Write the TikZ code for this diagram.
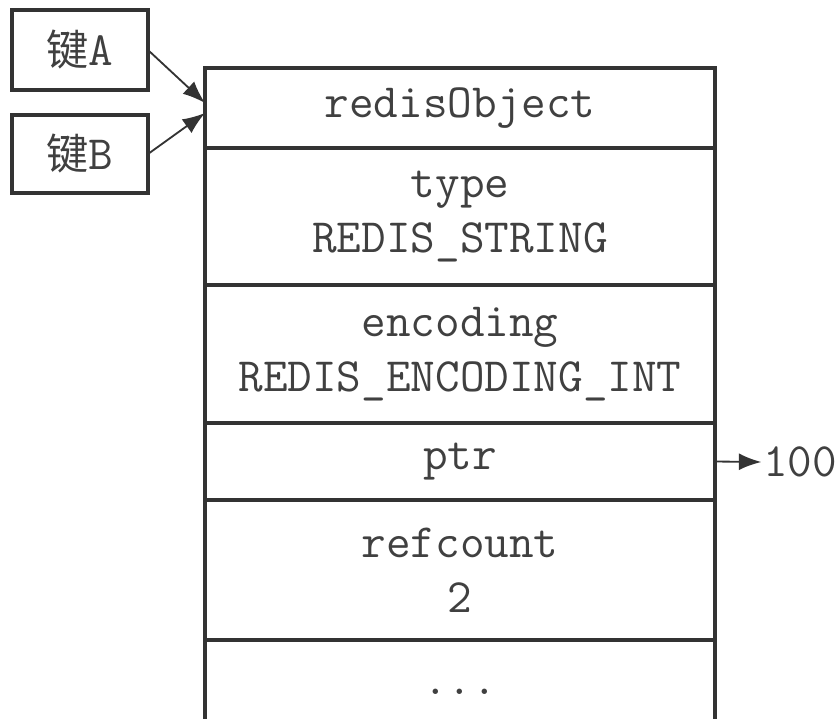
\documentclass[tikz,border=0pt]{standalone}
\usepackage{fontspec}
\newfontfamily\cjkfont{Noto Sans CJK SC}
\usetikzlibrary{arrows.meta,positioning}
\tikzset{
  obj-field/.style={draw=black!80, line width=3.4pt, minimum width=12.75cm, inner sep=0pt, outer sep=0pt,
    align=center, text=black!75, font=\ttfamily\fontsize{34}{39}\selectfont},
  obj-key/.style={draw=black!80, line width=3.4pt, minimum width=3.4cm, inner sep=0pt, outer sep=0pt,
    text=black!75, font=\ttfamily\fontsize{34}{39}\selectfont},
  obj-link/.style={-{Latex[length=16pt,width=12pt]}, draw=black!80, line width=1.3pt}
}

\begin{document}
\begin{tikzpicture}[node distance=0pt]
  \useasboundingbox (0,0) rectangle (20.975,-17.975);
  % keys
  \node[obj-key, minimum height=2.0cm] (keya) at (2.0,-1.25) {{\cjkfont\fontsize{30}{39}\selectfont 键}A};
  \node[obj-key, minimum height=1.95cm] (keyb) at (2.0,-3.85) {{\cjkfont\fontsize{30}{39}\selectfont 键}B};
  % the object, one field under the other
  \node[obj-field, minimum height=2.0cm, anchor=north] (head) at (11.5,-1.7) {redisObject};
  \node[obj-field, minimum height=3.425cm, below=of head] (type) {type\\REDIS\_STRING};
  \node[obj-field, minimum height=3.45cm, below=of type] (enc) {encoding\\REDIS\_ENCODING\_INT};
  \node[obj-field, minimum height=1.925cm, below=of enc] (ptr) {ptr};
  \node[obj-field, minimum height=3.5cm, below=of ptr] (refc) {refcount\\2};
  \node[obj-field, minimum height=2.6cm, below=of refc] (rest) {...};
  \node[text=black!75, font=\ttfamily\fontsize{34}{39}\selectfont, inner sep=1pt] (val) at (20.0,-11.55) {100};
  % pointers
  \draw[obj-link] (keya.east) -- ([yshift=0.125cm]head.west);
  \draw[obj-link] (keyb.east) -- ([yshift=-0.125cm]head.west);
  \draw[obj-link] (ptr.east) -- (val.west);
\end{tikzpicture}
\end{document}
